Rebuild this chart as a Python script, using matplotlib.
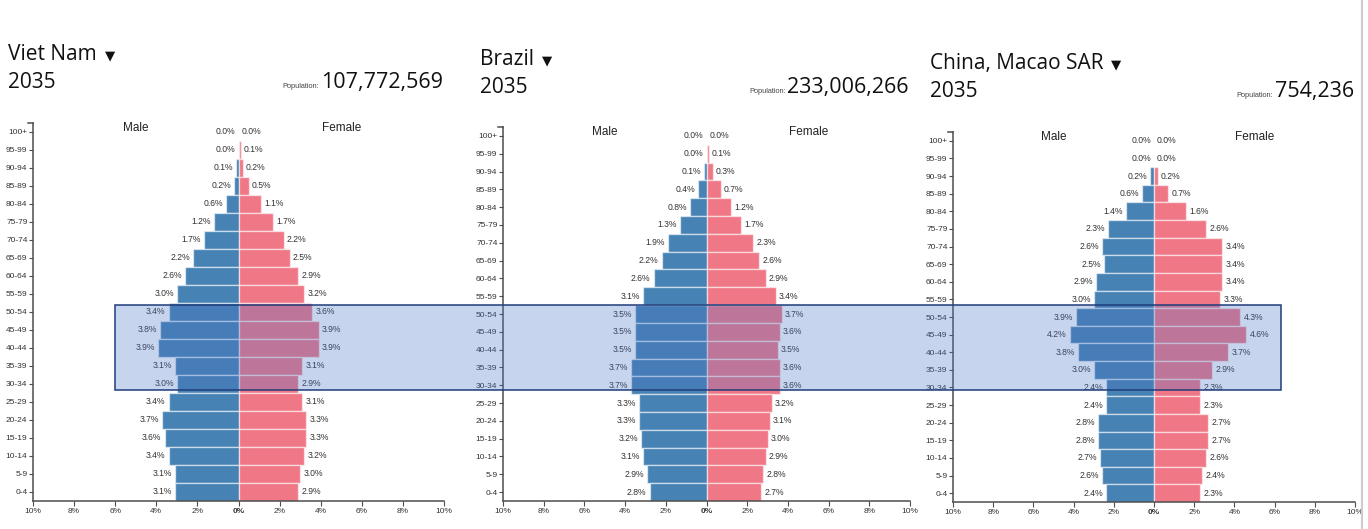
import matplotlib
matplotlib.use("Agg")
import matplotlib.pyplot as plt
from matplotlib.patches import Rectangle
from matplotlib.lines import Line2D

# ---------------- data ----------------
age_groups = ["100+", "95-99", "90-94", "85-89", "80-84", "75-79", "70-74", "65-69",
              "60-64", "55-59", "50-54", "45-49", "40-44", "35-39", "30-34", "25-29",
              "20-24", "15-19", "10-14", "5-9", "0-4"]

countries = ["Viet Nam", "Brazil", "China, Macao SAR"]
years = ["2035", "2035", "2035"]
populations = ["107,772,569", "233,006,266", "754,236"]

vn_male = [0.0, 0.0, 0.1, 0.2, 0.6, 1.2, 1.7, 2.2, 2.6, 3.0, 3.4, 3.8, 3.9, 3.1, 3.0, 3.4, 3.7, 3.6, 3.4, 3.1, 3.1]
vn_female = [0.0, 0.1, 0.2, 0.5, 1.1, 1.7, 2.2, 2.5, 2.9, 3.2, 3.6, 3.9, 3.9, 3.1, 2.9, 3.1, 3.3, 3.3, 3.2, 3.0, 2.9]

br_male = [0.0, 0.0, 0.1, 0.4, 0.8, 1.3, 1.9, 2.2, 2.6, 3.1, 3.5, 3.5, 3.5, 3.7, 3.7, 3.3, 3.3, 3.2, 3.1, 2.9, 2.8]
br_female = [0.0, 0.1, 0.3, 0.7, 1.2, 1.7, 2.3, 2.6, 2.9, 3.4, 3.7, 3.6, 3.5, 3.6, 3.6, 3.2, 3.1, 3.0, 2.9, 2.8, 2.7]

mo_male = [0.0, 0.0, 0.2, 0.6, 1.4, 2.3, 2.6, 2.5, 2.9, 3.0, 3.9, 4.2, 3.8, 3.0, 2.4, 2.4, 2.8, 2.8, 2.7, 2.6, 2.4]
mo_female = [0.0, 0.0, 0.2, 0.7, 1.6, 2.6, 3.4, 3.4, 3.4, 3.3, 4.3, 4.6, 3.7, 2.9, 2.3, 2.3, 2.7, 2.7, 2.6, 2.4, 2.3]

x_ticks = [-10, -8, -6, -4, -2, 0, 2, 4, 6, 8, 10]
x_tick_labels = ["10%", "8%", "6%", "4%", "2%", "0%", "2%", "4%", "6%", "8%", "10%"]

males = [vn_male, br_male, mo_male]
females = [vn_female, br_female, mo_female]

# ---------------- layout (pixels) ----------------
W, H = 1368, 529
DPI = 100
fig = plt.figure(figsize=(W / DPI, H / DPI), dpi=DPI)
fig.patch.set_facecolor("white")

# axes boxes: left, right, top, bottom in pixels
boxes = [(33, 444, 123, 501), (503, 910, 127, 501), (953, 1355, 132, 502)]
# header positions: left x, title baseline, year baseline
headers = [(8, 60, 88), (480, 65, 93), (930, 69, 97)]

MALE_C = "#4682b4"
FEMALE_C = "#f07886"
AX_C = "#4d4d4d"
TXT_C = "#333333"
LAB_FONT = ["Liberation Sans", "DejaVu Sans"]
HEAD_FONT = ["Open Sans", "DejaVu Sans"]
VAL_FS = 6.2


def px2fig(x, y):
    return x / W, 1 - y / H


n = len(age_groups)
ypos = [n - 1 - i for i in range(n)]

titles = []
pop_texts = []
for k in range(3):
    l, r, t, b = boxes[k]
    ax = fig.add_axes([l / W, 1 - b / H, (r - l) / W, (b - t) / H])
    ax.set_xlim(-10, 10)
    ax.set_ylim(-0.5, n - 0.5)
    male = [-v for v in males[k]]
    female = females[k]
    ax.barh(ypos, male, height=1.0, color=MALE_C, edgecolor=(1, 1, 1, 0.55), linewidth=1.0)
    ax.barh(ypos, female, height=1.0, color=FEMALE_C, edgecolor=(1, 1, 1, 0.55), linewidth=1.0)
    for yy, mv, fv in zip(ypos, males[k], females[k]):
        ax.annotate(f"{mv:.1f}%", (-mv, yy), xytext=(-2.2, 0), textcoords="offset points",
                    ha="right", va="center", fontsize=VAL_FS, color=TXT_C, family=LAB_FONT)
        ax.annotate(f"{fv:.1f}%", (fv, yy), xytext=(2.2, 0), textcoords="offset points",
                    ha="left", va="center", fontsize=VAL_FS, color=TXT_C, family=LAB_FONT)

    for s in ["top", "right"]:
        ax.spines[s].set_visible(False)
    for s in ["left", "bottom"]:
        ax.spines[s].set_color(AX_C)
        ax.spines[s].set_linewidth(1.1)
    ax.set_yticks(ypos)
    ax.set_yticklabels(age_groups, fontsize=6.0, color=TXT_C, family=LAB_FONT)
    ax.tick_params(axis="y", length=3, width=0.8, color=AX_C, pad=1)
    ax.set_xticks(x_ticks)
    ax.set_xticklabels(x_tick_labels, fontsize=6.0, color=TXT_C, family=LAB_FONT)
    ax.tick_params(axis="x", length=3.5, width=0.8, color=AX_C, pad=1.5)
    for lbl in ax.get_xticklabels():
        if lbl.get_text() == "0%":
            lbl.set_fontweight("bold")
    # outer tick at top of y axis
    ax.add_line(Line2D([-0.012, 0], [1, 1], transform=ax.transAxes, color=AX_C,
                       linewidth=1.1, clip_on=False))

    ax.text(-5, n - 0.78, "Male", ha="center", va="center", fontsize=8.5,
            color="#222222", family=LAB_FONT)
    ax.text(5, n - 0.78, "Female", ha="center", va="center", fontsize=8.5,
            color="#222222", family=LAB_FONT)

    hx, ty, yy_ = headers[k]
    tt = fig.text(*px2fig(hx, ty), countries[k], ha="left", va="baseline",
                  fontsize=15, color="#111111", family=HEAD_FONT)
    titles.append(tt)
    fig.text(*px2fig(hx, yy_), years[k], ha="left", va="baseline",
             fontsize=15, color="#111111", family=HEAD_FONT)
    pop = fig.text(*px2fig(r - 1, yy_), populations[k], ha="right", va="baseline",
                   fontsize=15.5, color="#111111", family=HEAD_FONT)
    pop_texts.append(pop)

fig.canvas.draw()
renderer = fig.canvas.get_renderer()
# dropdown triangles after titles, "Population:" before numbers
for k, tt in enumerate(titles):
    bb = tt.get_window_extent(renderer)
    x = bb.x1 + 13
    hx, ty, yy_ = headers[k]
    yb = H - ty
    fig.text(x / W, (yb + 1) / H, "\u25BC", ha="center", va="baseline",
             fontsize=9.5, color="#111111", family=["DejaVu Sans"])

for t in pop_texts:
    bb = t.get_window_extent(renderer)
    fig.text((bb.x0 - 2) / W, t.get_position()[1], "Population:", ha="right",
             va="baseline", fontsize=5.3, color="#444444", family=LAB_FONT)

# highlight (brush) rectangle across panels
x0, y0 = px2fig(115, 390)
x1, y1 = px2fig(1281, 305)
fig.add_artist(Rectangle((x0, y0), x1 - x0, y1 - y0, transform=fig.transFigure,
                         facecolor=(0.28, 0.45, 0.78, 0.30), edgecolor="#1f3d7a",
                         linewidth=1.1, zorder=10))

# right border line
fig.add_artist(Line2D([1362 / W, 1362 / W], [0, 1], transform=fig.transFigure,
                      color="#cccccc", linewidth=1.5))

fig.savefig("out.png", dpi=DPI)
